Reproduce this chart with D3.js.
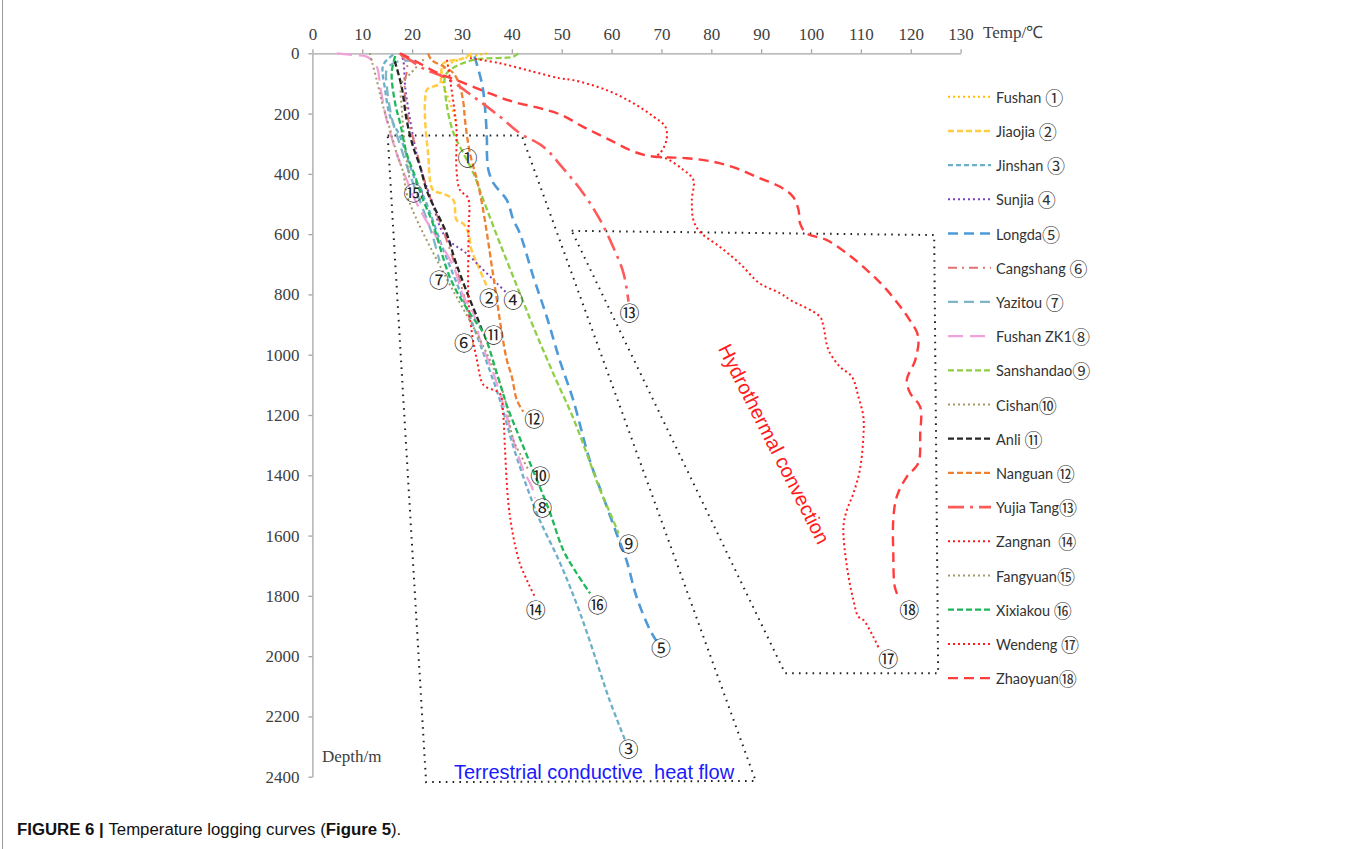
<!DOCTYPE html>
<html>
<head>
<meta charset="utf-8">
<script src="https://cdn.jsdelivr.net/npm/d3@7"></script>
<style>
body { margin: 0; background: #fff; }
text { white-space: pre; }
</style>
</head>
<body>
<svg id="chart" width="1359" height="849"></svg>
<script>
// ---- data: [temperature degC, depth m] ----
var tempTicks = d3.range(0, 131, 10);
var depthTicks = d3.range(0, 2401, 200);

var fushan = [[35,0],[31,14],[27.5,35],[26,58],[26.2,100],[27.5,160],[28.5,210],[29,250]];
var jiaojia = [[32,0],[30,18],[26.3,33],[25.8,70],[25.6,100],[23,120],[22.6,155],[22.6,221],[23.2,332],[24.2,454],[26.3,466],[28.3,488],[28.9,553],[30.3,566],[31.3,598],[31.9,652],[33.3,708],[35,774]];
var jinshan = [[16.2,5],[14.2,39],[14.6,122],[15.6,210],[17.6,277],[20.6,420],[22.6,487],[26.3,653],[30.3,819],[34.3,995],[37.6,1150],[40.3,1305],[43,1438],[45.6,1549],[49.7,1692],[53.7,1858],[58,2068],[59.6,2146],[62.9,2287]];
var sunjia = [[17.6,0],[18.2,22],[18.6,111],[19.6,221],[20.9,332],[22.2,409],[23.9,487],[25.7,580],[27.2,619],[30.9,664],[34.3,719],[37,763],[39,796]];
var longda = [[32.5,10],[34,100],[34.6,177],[35,288],[35,332],[35.3,387],[36.3,431],[39,487],[40.3,553],[41.6,597],[44.3,741],[47,874],[49.6,1018],[52.3,1150],[55.6,1349],[58.3,1471],[61,1593],[63,1682],[65,1803],[67.7,1913],[69,1950]];
var cangshang = [[17.5,0],[19,40],[18.5,100],[19,200],[20.5,300],[23,450],[26.5,600],[29.5,750],[31.5,880]];
var yazitou = [[20.5,25],[17,28],[15,50],[15,120],[16,220],[17.5,300],[19.5,400],[21.8,500],[24,600],[25.5,690]];
var fushanZK1 = [[4.9,0],[8.5,6],[10.9,11],[12.9,44],[13.6,111],[14.9,221],[16.9,332],[18.9,420],[20.6,487],[22.3,540],[28.3,708],[30.3,808],[32.3,863],[33.6,951],[36.3,1062],[39,1206],[40.3,1283],[42.3,1383],[44,1438],[44.6,1476]];
var sanshandao = [[41.3,0],[40.3,11],[32.3,22],[27.6,55],[26.6,78],[26.9,166],[28.3,265],[30.3,332],[32.3,398],[34.3,487],[37.6,630],[41.6,796],[44.3,907],[48.3,1062],[52.3,1210],[55,1327],[57.7,1449],[60.3,1548],[61.4,1593]];
var cishan = [[11.5,0],[12.9,89],[14.2,177],[15.6,254],[16.9,332],[18.2,394],[18.9,465],[20.6,540],[27,750],[34.3,973],[38.3,1128],[40.3,1283],[41.6,1327],[43.3,1382]];
var anli = [[16.5,25],[17.9,111],[18.9,221],[20.2,310],[21.6,376],[22.9,454],[24.2,503],[26.9,597],[28.6,686],[30.3,763],[31.6,818],[33,874],[34,918]];
var nanguan = [[23.2,0],[23.9,22],[26.3,44],[28.3,66],[29.6,111],[30.3,166],[30.6,221],[31.6,332],[33,420],[34,497],[35,597],[36,708],[37,818],[38,929],[39,1018],[40,1073],[41,1150],[42.3,1189]];
var yujiaTang = [[18.2,6],[22.2,50],[26.9,83],[32.3,144],[37.6,210],[41.6,265],[46.3,310],[50,376],[54.3,464],[57.7,553],[60.3,642],[62.4,730],[63.4,824]];
var zangnan = [[27,22],[28.3,166],[28.9,254],[28.9,387],[29.6,454],[31.2,480],[31.3,597],[31.3,818],[32,929],[33,1018],[34.3,1100],[36.3,1117],[37.6,1128],[38.3,1206],[38.6,1305],[39.3,1493],[40.3,1604],[41.6,1692],[43.3,1758],[44.6,1803]];
var fangyuan = [[22.3,20],[19.5,70],[17.9,100],[18,200],[18.5,300],[19.5,420]];
var xixiakou = [[16.6,9],[15.9,66],[16.6,166],[17.6,232],[18.9,332],[20.6,409],[22.2,487],[23.9,553],[27.8,752],[31.6,863],[34.3,929],[37,1062],[39.1,1173],[42.3,1305],[45.6,1438],[47.7,1526],[50.3,1648],[53,1725],[55.7,1792]];
var wendeng = [[31.6,16],[37.6,33],[44.3,61],[49.6,83],[52.3,89],[59,122],[64.4,166],[68.4,210],[70.8,244],[71,288],[69.7,332],[68.7,343],[70.8,348],[74.4,387],[76.4,420],[76.1,487],[76.4,553],[77.7,592],[81.7,642],[85.7,697],[89.7,763],[93.8,796],[95.8,818],[101.8,874],[102.5,907],[103.5,984],[105.8,1040],[108.2,1073],[109.5,1139],[110.5,1206],[110.5,1272],[109.8,1382],[108.5,1460],[107.2,1515],[106.5,1571],[107.2,1703],[108.5,1814],[109.5,1869],[110.5,1880],[112.5,1936],[113.8,1980]];
var zhaoyuan = [[17.6,0],[20.9,28],[25.6,69],[28.9,89],[34.6,127],[40.3,161],[45.6,182],[50,205],[54.3,244],[59,282],[64.4,326],[67.7,341],[71,345],[75.1,348],[80.4,360],[85.1,382],[89.8,415],[93.8,443],[96.4,476],[97.5,520],[97.8,564],[99.1,597],[103.1,619],[107.2,664],[111.2,719],[115.2,785],[119.8,885],[121.5,940],[120.9,1018],[119.2,1084],[119.9,1128],[121.9,1173],[121.9,1261],[121.5,1360],[119.2,1405],[117.2,1471],[116.5,1548],[116.5,1659],[116.8,1770],[117.5,1803]];

var wells = [fushan, jiaojia, jinshan, sunjia, longda, cangshang, yazitou, fushanZK1, sanshandao,
             cishan, anli, nanguan, yujiaTang, zangnan, fangyuan, xixiakou, wendeng, zhaoyuan];
var wellNames = ["Fushan ","Jiaojia ","Jinshan ","Sunjia ","Longda","Cangshang ","Yazitou ","Fushan ZK1","Sanshandao",
                 "Cishan","Anli ","Nanguan ","Yujia Tang","Zangnan  ","Fangyuan","Xixiakou ","Wendeng ","Zhaoyuan"];
var circled = ["①","②","③","④","⑤","⑥","⑦","⑧","⑨","⑩","⑪","⑫","⑬","⑭","⑮","⑯","⑰","⑱"];
// where each circled number sits on the plot
var labelT = [31.1, 35.4, 63.4, 40.3, 69.9, 30.4, 25.4, 46.1, 63.4, 45.7, 36.3, 44.5, 63.6, 44.8, 20.3, 57.2, 115.5, 119.7];
var labelD = [346, 810, 2305, 818, 1971, 959, 752, 1508, 1626, 1401, 932, 1211, 859, 1845, 461, 1828, 2007, 1845];

// dotted outlines of the two zones
var conductiveZone = [[15.1,273],[42,273],[88.9,2414],[22.8,2418]];
var convectionZone = [[52,589],[124.7,603],[125.5,2057],[94.8,2057]];

// ---- styles ----
var colors = ["#FFC000","#FFCC44","#6BAFC9","#7F3FBF","#4E9AD8","#E07272","#7EB5C8","#F2A2DA","#8FCF45",
              "#A39A68","#262626","#EE8030","#FF5A5A","#FF1A1A","#A39A68","#1DB85A","#FF1A1A","#FF3D3D"];
var dashes = ["2,3","6,3","5,3","2,3","10,6","9,5,2,5","10,6","15,7","6,3",
              "2,3","6,3","6,3","16,6,3,6","2,3","2,3","6,3","2,3","10,6"];
var widths = [2,2.5,2.3,2,2.6,2,2.3,2.3,2.3,2,2.3,2.3,2.6,2,2,2.3,2,2.4];

var svg = d3.select("#chart");

var x = d3.scaleLinear().domain([0, 130]).range([312.4, 960.6]);
var y = d3.scaleLinear().domain([0, 2400]).range([53.3, 776.7]);

// page border
svg.append("line").attr("x1", 2.5).attr("x2", 2.5).attr("y1", 0).attr("y2", 849)
    .attr("stroke", "#9a9a9a").attr("stroke-width", 1);

// axes
var xAxis = svg.append("g")
    .attr("transform", "translate(0," + y(0) + ")")
    .call(d3.axisTop(x).tickValues(tempTicks).tickSize(4).tickPadding(9).tickSizeOuter(0));
var yAxis = svg.append("g")
    .attr("transform", "translate(" + x(0) + ",0)")
    .call(d3.axisLeft(y).tickValues(depthTicks).tickFormat(d3.format("d")).tickSize(4).tickPadding(9).tickSizeOuter(0));
[xAxis, yAxis].forEach(function(g) {
    g.selectAll("path, line").attr("stroke", "#a6a6a6").attr("stroke-width", 1.3);
    g.selectAll("text").attr("font-family", "'Liberation Serif', serif")
        .attr("font-size", 17).attr("fill", "#404040");
});

svg.append("text").attr("x", 983).attr("y", 38)
    .attr("font-family", "'Liberation Serif', serif").attr("font-size", 17).attr("fill", "#404040")
    .text("Temp/℃");
svg.append("text").attr("x", 322).attr("y", 762)
    .attr("font-family", "'Liberation Serif', serif").attr("font-size", 17).attr("fill", "#404040")
    .text("Depth/m");

// zone outlines
var poly = d3.line().x(function(d) { return x(d[0]); }).y(function(d) { return y(d[1]); });
[conductiveZone, convectionZone].forEach(function(z) {
    svg.append("path")
        .attr("d", poly(z) + "Z")
        .attr("fill", "none")
        .attr("stroke", "#222")
        .attr("stroke-width", 2)
        .attr("stroke-dasharray", "1.6,5.2");
});

// curves
var curve = d3.line()
    .x(function(d) { return x(d[0]); })
    .y(function(d) { return y(d[1]); })
    .curve(d3.curveCatmullRom.alpha(0.5));

svg.append("g").selectAll("path")
    .data(wells)
    .enter()
    .append("path")
    .attr("d", function(d) { return curve(d); })
    .attr("fill", "none")
    .attr("stroke", function(d, i) { return colors[i]; })
    .attr("stroke-width", function(d, i) { return widths[i]; })
    .attr("stroke-dasharray", function(d, i) { return dashes[i]; });

// circled numbers on the plot
svg.append("g").selectAll("text")
    .data(circled)
    .enter()
    .append("text")
    .attr("x", function(d, i) { return x(labelT[i]); })
    .attr("y", function(d, i) { return y(labelD[i]); })
    .attr("text-anchor", "middle")
    .attr("dominant-baseline", "central")
    .attr("font-family", "'Noto Sans CJK JP', sans-serif")
    .attr("font-size", 20)
    .attr("fill", "#222")
    .text(function(d) { return d; });

// zone names
svg.append("text")
    .attr("x", x(28.4)).attr("y", y(2406))
    .attr("font-family", "'Liberation Sans', Arial, sans-serif")
    .attr("font-size", 20)
    .attr("fill", "#1a1aff")
    .text("Terrestrial conductive  heat flow");
svg.append("text")
    .attr("transform", "translate(" + x(92.6) + "," + y(1296) + ") rotate(63)")
    .attr("text-anchor", "middle")
    .attr("dominant-baseline", "central")
    .attr("font-family", "'Liberation Sans', Arial, sans-serif")
    .attr("font-size", 20)
    .attr("fill", "#ff1a1a")
    .text("Hydrothermal convection");

// legend
var legendTop = 96.7, legendStep = 34.2;
var legend = svg.append("g").selectAll("g")
    .data(wellNames)
    .enter()
    .append("g")
    .attr("transform", function(d, i) { return "translate(948," + (legendTop + i * legendStep) + ")"; });
legend.append("line")
    .attr("x1", 0).attr("x2", 43).attr("y1", 0).attr("y2", 0)
    .attr("stroke", function(d, i) { return colors[i]; })
    .attr("stroke-width", function(d, i) { return widths[i]; })
    .attr("stroke-dasharray", function(d, i) { return dashes[i]; });
var ltext = legend.append("text")
    .attr("x", 48).attr("y", 0)
    .attr("dominant-baseline", "central")
    .attr("font-family", "Lato, 'Liberation Sans', sans-serif")
    .attr("font-size", 14.5)
    .attr("fill", "#333");
ltext.append("tspan").text(function(d) { return d; });
ltext.append("tspan")
    .attr("font-family", "'Noto Sans CJK JP', sans-serif")
    .attr("font-size", 18)
    .text(function(d, i) { return circled[i]; });

// caption
var cap = svg.append("text").attr("x", 17).attr("y", 835)
    .attr("font-family", "'Liberation Sans', Arial, sans-serif")
    .attr("font-size", 16.8).attr("fill", "#111");
cap.append("tspan").attr("font-weight", "bold").text("FIGURE 6 | ");
cap.append("tspan").text("Temperature logging curves (");
cap.append("tspan").attr("font-weight", "bold").text("Figure 5");
cap.append("tspan").text(").");
</script>
</body>
</html>
